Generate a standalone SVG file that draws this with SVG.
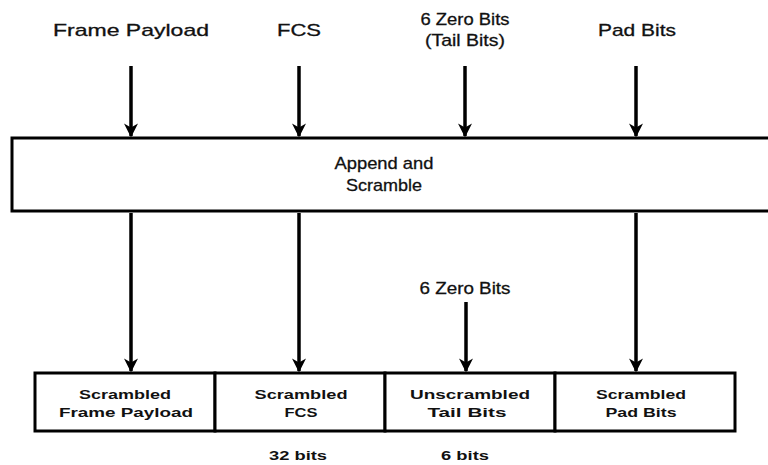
<svg xmlns="http://www.w3.org/2000/svg" width="768" height="465" viewBox="0 0 768 465">
  <defs>
    <marker id="arrow" viewBox="0 0 10 10" refX="9" refY="5" markerWidth="4" markerHeight="4" orient="auto" markerUnits="strokeWidth">
      <path d="M0,0 L10,5 L0,10 L3,5 Z" fill="#000"/>
    </marker>
    <style>
      rect.box { fill: #fff; stroke: #000; stroke-width: 3; }
      .lbl { font-family: "Liberation Sans", Arial, sans-serif; font-size: 17px; fill: #111; text-anchor: middle; stroke: #111; stroke-width: 0.3; }
      .cell { font-family: "Liberation Sans", Arial, sans-serif; font-size: 13px; font-weight: bold; fill: #111; text-anchor: middle; }
      .conn line { stroke: #000; stroke-width: 3.5; marker-end: url(#arrow); }
    </style>
  </defs>
  <rect width="768" height="465" fill="#fff"/>

  <!-- input labels -->
  <g id="in-payload"><text class="lbl" x="131" y="36" textLength="156" lengthAdjust="spacingAndGlyphs">Frame Payload</text></g>
  <g id="in-fcs"><text class="lbl" x="299" y="36" textLength="44" lengthAdjust="spacingAndGlyphs">FCS</text></g>
  <g id="in-tail">
    <text class="lbl" x="465" y="25" textLength="89" lengthAdjust="spacingAndGlyphs">6 Zero Bits</text>
    <text class="lbl" x="465" y="46" textLength="80" lengthAdjust="spacingAndGlyphs">(Tail Bits)</text>
  </g>
  <g id="in-pad"><text class="lbl" x="637" y="36" textLength="78" lengthAdjust="spacingAndGlyphs">Pad Bits</text></g>

  <!-- process block -->
  <g id="append-scramble">
    <rect class="box" x="12" y="138" width="770" height="73"/>
    <text class="lbl" x="384" y="169" textLength="99" lengthAdjust="spacingAndGlyphs">Append and</text>
    <text class="lbl" x="384" y="191" textLength="76" lengthAdjust="spacingAndGlyphs">Scramble</text>
  </g>

  <!-- unscrambled tail input -->
  <g id="zero-bits"><text class="lbl" x="465" y="294" textLength="91" lengthAdjust="spacingAndGlyphs">6 Zero Bits</text></g>

  <!-- output frame -->
  <g id="out-payload">
    <rect class="box" x="35" y="373" width="180" height="58"/>
    <text class="cell" x="125" y="399" textLength="92" lengthAdjust="spacingAndGlyphs">Scrambled</text>
    <text class="cell" x="126" y="417" textLength="134" lengthAdjust="spacingAndGlyphs">Frame Payload</text>
  </g>
  <g id="out-fcs">
    <rect class="box" x="215" y="373" width="170" height="58"/>
    <text class="cell" x="301" y="399" textLength="93" lengthAdjust="spacingAndGlyphs">Scrambled</text>
    <text class="cell" x="301" y="417" textLength="33" lengthAdjust="spacingAndGlyphs">FCS</text>
  </g>
  <g id="out-tail">
    <rect class="box" x="385" y="373" width="170" height="58"/>
    <text class="cell" x="470" y="399" textLength="120" lengthAdjust="spacingAndGlyphs">Unscrambled</text>
    <text class="cell" x="467" y="417" textLength="79" lengthAdjust="spacingAndGlyphs">Tail Bits</text>
  </g>
  <g id="out-pad">
    <rect class="box" x="555" y="373" width="180" height="58"/>
    <text class="cell" x="641" y="399" textLength="90" lengthAdjust="spacingAndGlyphs">Scrambled</text>
    <text class="cell" x="641" y="417" textLength="71" lengthAdjust="spacingAndGlyphs">Pad Bits</text>
  </g>

  <!-- field sizes -->
  <g id="size-fcs"><text class="cell" x="298" y="460" textLength="58" lengthAdjust="spacingAndGlyphs">32 bits</text></g>
  <g id="size-tail"><text class="cell" x="465" y="460" textLength="48" lengthAdjust="spacingAndGlyphs">6 bits</text></g>

  <!-- connectors -->
  <g id="connectors" class="conn">
    <line x1="131" y1="66" x2="131" y2="136"/>
    <line x1="299" y1="66" x2="299" y2="136"/>
    <line x1="465" y1="66" x2="465" y2="136"/>
    <line x1="636" y1="66" x2="636" y2="136"/>
    <line x1="131" y1="213" x2="131" y2="371"/>
    <line x1="299" y1="213" x2="299" y2="371"/>
    <line x1="636" y1="213" x2="636" y2="371"/>
    <line x1="466" y1="302" x2="466" y2="371"/>
  </g>
</svg>
